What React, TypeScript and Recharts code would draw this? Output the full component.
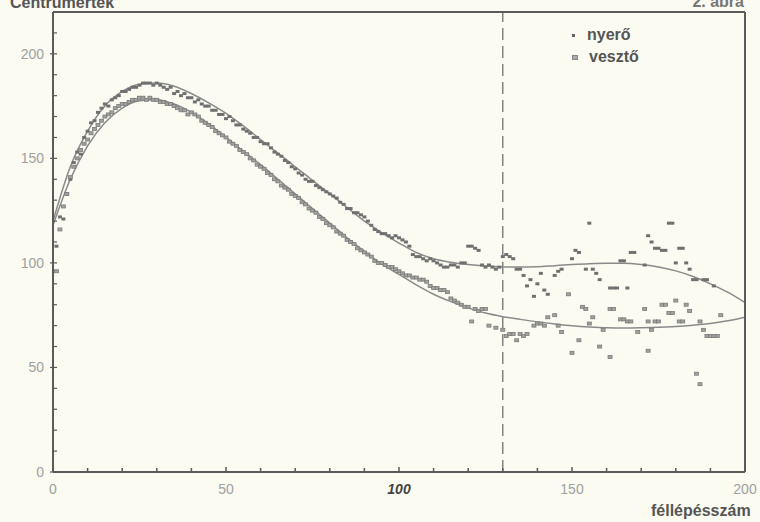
import { ComposedChart, Line, Scatter, XAxis, YAxis, ReferenceLine } from "recharts";

// tick positions
const xTicks = [0, 10, 20, 30, 40, 50, 60, 70, 80, 90, 100, 110, 120, 130, 140, 150, 160, 170, 180, 190, 200];
const yTicks = [0, 10, 20, 30, 40, 50, 60, 70, 80, 90, 100, 110, 120, 130, 140, 150, 160, 170, 180, 190, 200, 210];
const xLabels = [0, 50, 100, 150, 200];
const yLabels = [0, 50, 100, 150, 200];

// fitted curves, sampled every 5 steps
const fitX = [0, 5, 10, 15, 20, 25, 30, 35, 40, 45, 50, 55, 60, 65, 70, 75, 80, 85, 90, 95, 100, 105, 110, 115, 120, 125, 130, 135, 140, 145, 150, 155, 160, 165, 170, 175, 180, 185, 190, 195, 200];
const nyeroFit = [120, 146, 163, 175, 182, 185.5, 186, 184.5, 181, 176.5, 171.5, 165.5, 159, 152.5, 146, 139.5, 133, 126.5, 120, 114.5, 109.5, 105, 102, 100.3, 99.2, 98.5, 98.1, 98, 98.2, 98.7, 99.2, 99.6, 99.8, 99.8, 99.2, 98, 96.2, 93.5, 90, 86, 81];
const vesztoFit = [118, 140, 156, 167, 174, 177.5, 178, 176, 172, 166.5, 160, 153.5, 147, 140, 133, 126, 119, 112, 105.5, 99.5, 94.5, 89.5, 85, 81.5, 78.5, 76, 74.3, 73, 71.8, 70.8, 70, 69.4, 69, 68.9, 69, 69.2, 69.6, 70.2, 71, 72.3, 74];

// measured points, one per step starting at 1
const nyeroPoints = [
  108, 122, 121, 133, 140, 148, 153, 152, 160, 163, 167, 168, 172, 174, 176, 175, 178, 179, 180, 182,
  182, 183, 184, 184, 185, 186, 186, 186, 185, 186, 185, 184, 183, 184, 181, 182, 180, 181, 179, 179,
  177, 178, 176, 175, 175, 173, 173, 171, 171, 169, 170, 168, 166, 166, 164, 163, 162, 160, 160, 158,
  157, 157, 155, 153, 152, 151, 149, 148, 146, 145, 143, 142, 140, 139, 139, 137, 136, 135, 134, 133,
  132, 131, 129, 128, 126, 126, 124, 124, 123, 122, 120, 118, 116, 115, 114, 114, 113, 112, 113, 112,
  111, 110, 108, 104, 103, 103, 102, 101, 102, 101, 100, 99, 98, 98, 99, 99, 98, 100, 100, 108,
  108, 107, 106, 99, 98, 99, 98, 97, 98, 103, 104, 103, 102, 97, 97, 94,
];
const vesztoPoints = [
  96, 116, 127, 133, 141, 146, 150, 154, 157, 159, 162, 164, 166, 168, 170, 171, 172, 174, 175, 176,
  176, 177, 178, 178, 179, 179, 178, 179, 178, 178, 177, 177, 176, 176, 175, 174, 173, 173, 171, 172,
  171, 170, 168, 167, 166, 165, 163, 162, 161, 160, 158, 157, 156, 154, 153, 152, 150, 149, 147, 146,
  145, 143, 142, 140, 139, 137, 136, 135, 133, 132, 131, 129, 128, 126, 125, 124, 122, 121, 119, 118,
  117, 115, 114, 113, 111, 110, 109, 107, 106, 105, 104, 103, 101, 100, 100, 99, 98, 98, 97, 96,
  95, 94, 94, 93, 93, 92, 92, 91, 89, 88, 88, 87, 87, 86, 83, 82, 81, 80, 79, 79,
  72, 78, 77, 78, 78,
];

// scattered tail after the dashed line: [step, value]
const nyeroTail: [number, number][] = [
  [137, 89], [138, 92], [139, 84], [140, 90], [141, 95], [142, 87], [143, 85], [145, 94], [146, 96], [147, 97],
  [150, 102], [151, 106], [152, 105], [154, 97], [155, 119], [156, 97], [157, 95], [158, 92], [161, 88], [162, 88],
  [163, 88], [164, 101], [165, 101], [166, 88], [167, 105], [168, 105], [171, 99], [172, 113], [173, 110], [174, 107],
  [175, 107], [176, 106], [177, 106], [178, 119], [179, 119], [180, 100], [181, 107], [182, 107], [183, 100], [184, 97],
  [185, 92], [186, 92], [188, 92], [189, 92], [191, 89],
];
const vesztoTail: [number, number][] = [
  [126, 70], [128, 69], [130, 68], [131, 65], [132, 66], [133, 66], [134, 63], [135, 66], [136, 65], [137, 66],
  [139, 70], [140, 71], [141, 71], [142, 70], [143, 74], [145, 75], [146, 70], [147, 67], [149, 85], [150, 57],
  [152, 63], [153, 79], [154, 78], [155, 71], [156, 74], [158, 60], [159, 68], [161, 55], [161, 78], [162, 78],
  [164, 73], [165, 73], [166, 72], [167, 72], [169, 67], [171, 78], [172, 72], [172, 58], [173, 68], [174, 72],
  [175, 72], [176, 80], [177, 80], [178, 76], [179, 76], [180, 82], [181, 72], [182, 72], [183, 80], [184, 77],
  [186, 47], [187, 42], [187, 72], [188, 68], [189, 65], [190, 65], [191, 65], [192, 65], [193, 75],
];

const nyeroFitData = fitX.map((x, i) => ({ x, y: nyeroFit[i] }));
const vesztoFitData = fitX.map((x, i) => ({ x, y: vesztoFit[i] }));
const nyeroData = nyeroPoints.map((y, i) => ({ x: i + 1, y })).concat(nyeroTail.map(([x, y]) => ({ x, y })));
const vesztoData = vesztoPoints.map((y, i) => ({ x: i + 1, y })).concat(vesztoTail.map(([x, y]) => ({ x, y })));

const FONT = "'Liberation Sans', Arial, sans-serif";
const BG = "#fbfbf2";
const AXIS = "#5a5a5a";

const BottomTick = (props: any) => {
  const { x, y, payload } = props;
  const v = payload.value;
  const major = xLabels.includes(v);
  const bold = v === 100;
  return (
    <g>
      <line x1={x} y1={y} x2={x} y2={y - (major ? 5 : 4)} stroke={AXIS} strokeWidth={1.5} />
      {major && (
        <text
          x={x}
          y={y + 22}
          textAnchor="middle"
          fontFamily={FONT}
          fontSize={14}
          fontWeight={bold ? 700 : 400}
          fontStyle={bold ? "italic" : "normal"}
          fill={bold ? "#444" : "#a0a0a0"}
        >
          {v}
        </text>
      )}
    </g>
  );
};

const TopTick = (props: any) => {
  const { x, y } = props;
  return <line x1={x} y1={y} x2={x} y2={y + 4} stroke={AXIS} strokeWidth={1.2} />;
};

const LeftTick = (props: any) => {
  const { x, y, payload } = props;
  const v = payload.value;
  const major = yLabels.includes(v);
  return (
    <g>
      <line x1={major ? x - 3 : x} y1={y} x2={x + 4} y2={y} stroke={AXIS} strokeWidth={1.2} />
      {major && (
        <text x={x - 9} y={y + 5} textAnchor="end" fontFamily={FONT} fontSize={14} fill="#a0a0a0">
          {v}
        </text>
      )}
    </g>
  );
};

const RightTick = (props: any) => {
  const { x, y } = props;
  return <line x1={x} y1={y} x2={x - 4} y2={y} stroke={AXIS} strokeWidth={1.2} />;
};

const nyeroDot = (props: any) => (
  <rect x={props.cx - 2} y={props.cy - 1.5} width={4} height={3} fill="#707070" />
);
const vesztoDot = (props: any) => (
  <rect x={props.cx - 2} y={props.cy - 1.5} width={4} height={3} fill="#a2a29e" stroke="#7a7a7a" strokeWidth={0.8} />
);

export default function App() {
  return (
    <div style={{ position: "absolute", left: 0, top: 0, width: 760, height: 522, background: BG, overflow: "hidden" }}>
      <div style={{ position: "absolute", left: 10, top: -5, fontFamily: FONT, fontWeight: 700, fontSize: 16, lineHeight: "16px", color: "#555" }}>
        Centrumértek
      </div>
      <div style={{ position: "absolute", right: 16, top: -6, fontFamily: FONT, fontWeight: 700, fontSize: 16, lineHeight: "16px", color: "#777" }}>
        2. ábra
      </div>
      <ComposedChart width={760} height={522} margin={{ top: 11, right: 14, bottom: 49, left: 52 }}>
        <XAxis
          dataKey="x"
          type="number"
          domain={[0, 200]}
          ticks={xTicks}
          height={1}
          tickSize={0}
          tickMargin={0}
          tick={<BottomTick />}
          axisLine={{ stroke: AXIS, strokeWidth: 2 }}
          interval={0}
        />
        <XAxis
          xAxisId="top"
          orientation="top"
          dataKey="x"
          type="number"
          domain={[0, 200]}
          ticks={xTicks}
          height={1}
          tickSize={0}
          tickMargin={0}
          tick={<TopTick />}
          axisLine={{ stroke: AXIS, strokeWidth: 2 }}
          interval={0}
        />
        <YAxis
          dataKey="y"
          type="number"
          domain={[0, 220]}
          ticks={yTicks}
          width={1}
          tickSize={0}
          tickMargin={0}
          tick={<LeftTick />}
          axisLine={{ stroke: AXIS, strokeWidth: 2 }}
          interval={0}
        />
        <YAxis
          yAxisId="right"
          orientation="right"
          dataKey="y"
          type="number"
          domain={[0, 220]}
          ticks={yTicks}
          width={1}
          tickSize={0}
          tickMargin={0}
          tick={<RightTick />}
          axisLine={{ stroke: AXIS, strokeWidth: 2 }}
          interval={0}
        />
        <ReferenceLine x={130} stroke="#666" strokeWidth={1.2} strokeDasharray="12 6" />
        <Line data={nyeroFitData} dataKey="y" type="monotone" stroke="#8a8a8a" strokeWidth={1.5} dot={false} isAnimationActive={false} />
        <Line data={vesztoFitData} dataKey="y" type="monotone" stroke="#8a8a8a" strokeWidth={1.5} dot={false} isAnimationActive={false} />
        <Scatter data={nyeroData} dataKey="y" shape={nyeroDot} isAnimationActive={false} />
        <Scatter data={vesztoData} dataKey="y" shape={vesztoDot} isAnimationActive={false} />
      </ComposedChart>
      <div style={{ position: "absolute", left: 572, top: 24, fontFamily: FONT, fontWeight: 700, fontSize: 16, color: "#555", lineHeight: "22px" }}>
        <div style={{ display: "flex", alignItems: "center" }}>
          <span style={{ width: 3, height: 3, background: "#666", marginRight: 12 }} />
          nyerő
        </div>
        <div style={{ display: "flex", alignItems: "center" }}>
          <span style={{ width: 4, height: 3, background: "#aaa", border: "0.5px solid #888", marginRight: 11 }} />
          vesztő
        </div>
      </div>
      <div style={{ position: "absolute", left: 651, top: 502, fontFamily: FONT, fontWeight: 700, fontSize: 16, color: "#555" }}>
        féllépésszám
      </div>
    </div>
  );
}
